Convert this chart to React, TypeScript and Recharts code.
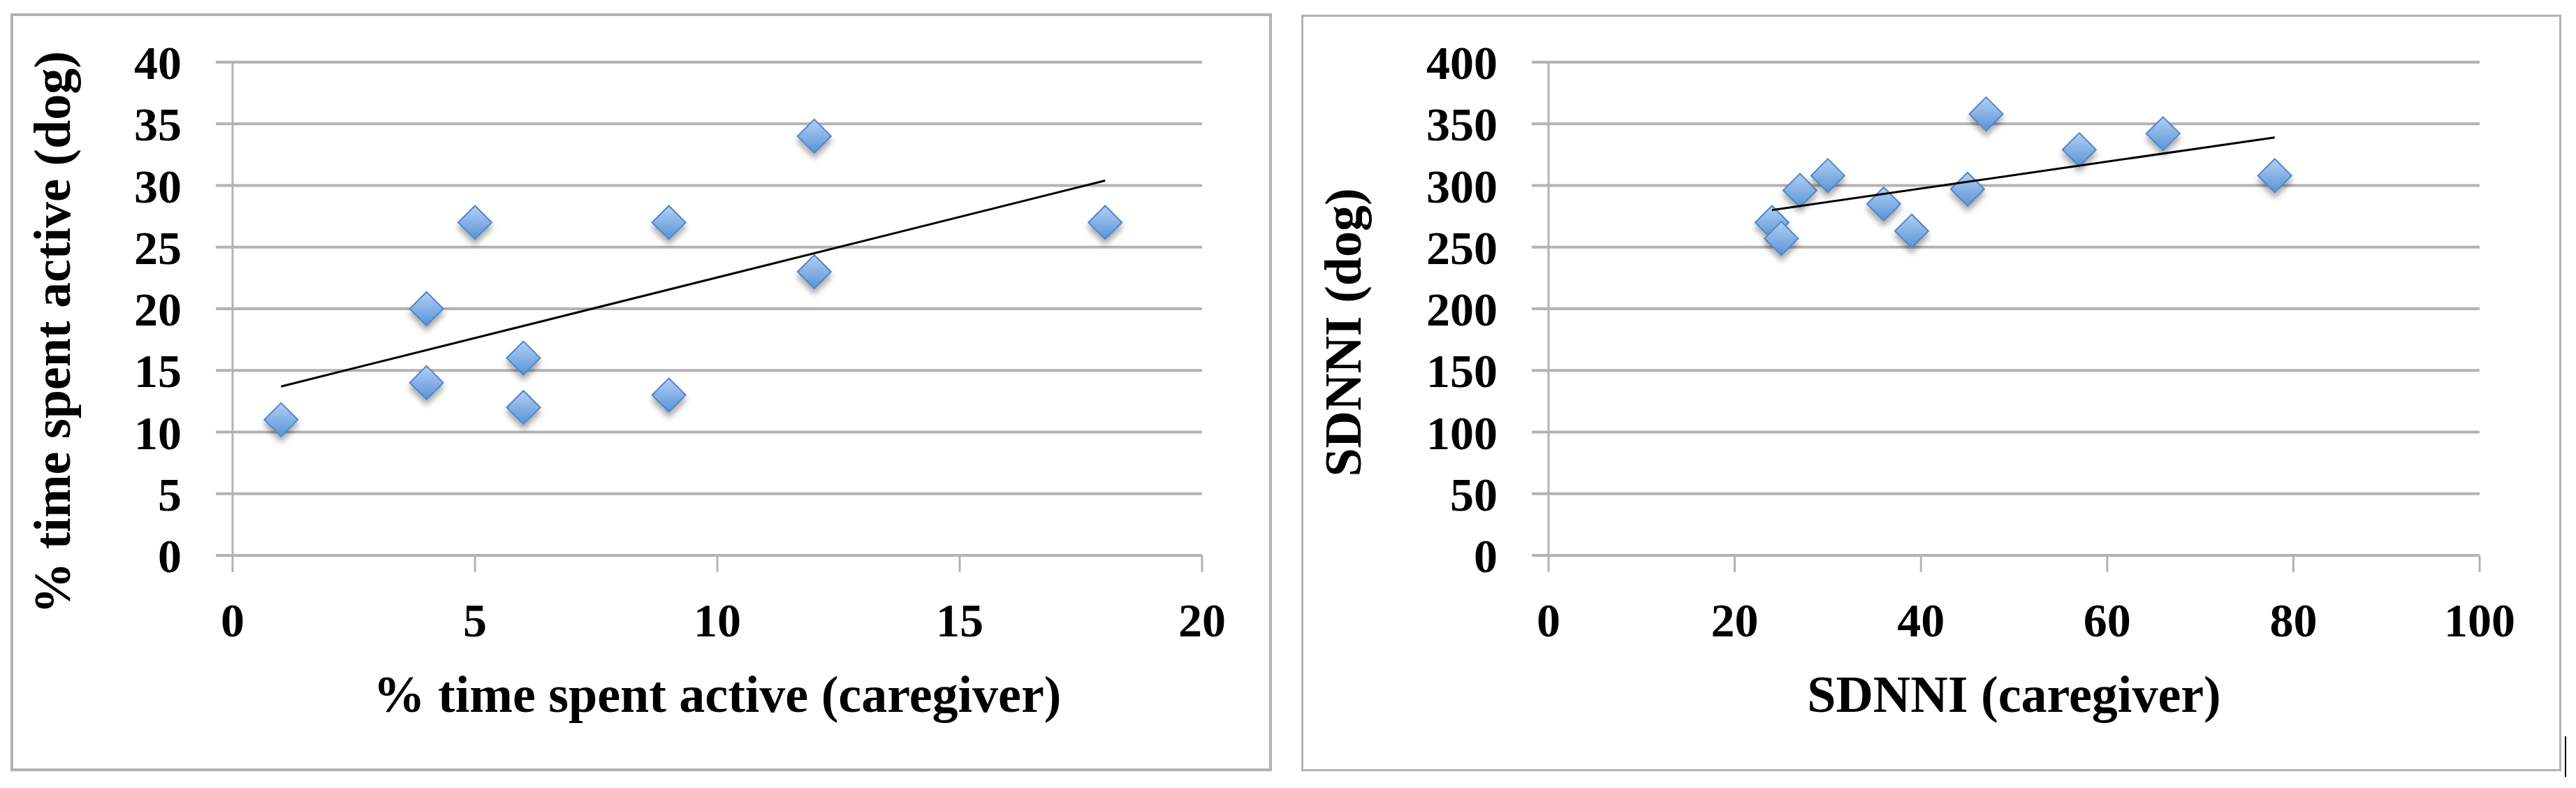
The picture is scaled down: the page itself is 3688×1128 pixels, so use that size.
import React from 'react';
import { ScatterChart, Scatter, XAxis, YAxis, CartesianGrid, Label } from 'recharts';

// ---- Data: left panel (% time spent active) ----
const activeCaregiver = [1, 4, 4, 5, 6, 6, 9, 9, 12, 12, 18];
const activeDog = [11, 20, 14, 27, 16, 12, 27, 13, 34, 23, 27];
const activeTrendX = [1, 18];
const activeTrendY = [13.7, 30.4];
const activeXTicks = [0, 5, 10, 15, 20];
const activeYTicks = [0, 5, 10, 15, 20, 25, 30, 35, 40];

// ---- Data: right panel (SDNNI) ----
const sdnniCaregiver = [24, 25, 27, 30, 36, 39, 45, 47, 57, 66, 78];
const sdnniDog = [270, 257, 296, 308, 285, 263, 297, 358, 329, 342, 308];
const sdnniTrendX = [24, 78];
const sdnniTrendY = [280, 339];
const sdnniXTicks = [0, 20, 40, 60, 80, 100];
const sdnniYTicks = [0, 50, 100, 150, 200, 250, 300, 350, 400];

const zip = (xs: number[], ys: number[]) => xs.map((x, i) => ({ x, y: ys[i] }));

const FONT = '"Liberation Serif", "Times New Roman", serif';
const tickStyle = { fontFamily: FONT, fontWeight: 700, fontSize: 68, fill: '#000' };
const GRID = '#b3b3b3';

const makeDiamond = (id: string) => (props: any) => {
  const { cx, cy } = props;
  if (cx == null || cy == null) return <g />;
  const h = 24;
  const pts = `${cx},${cy - h} ${cx + h},${cy} ${cx},${cy + h} ${cx - h},${cy}`;
  return (
    <g filter={`url(#shadow${id})`}>
      <polygon points={pts} fill={`url(#grad${id})`} stroke="#4f86c8" strokeWidth={2} />
    </g>
  );
};

const NoShape = () => <g />;

interface PanelProps {
  id: string;
  left: number;
  width: number;
  yAxisWidth: number;
  rightMargin: number;
  data: { x: number; y: number }[];
  trend: { x: number; y: number }[];
  xTicks: number[];
  yTicks: number[];
  xTitle: string;
  yTitle: string;
  yTitleX: number;
}

const HEIGHT = 1128;
const PLOT_TOP = 89;
const PLOT_BOTTOM = 795;
const XAXIS_H = 100;

function Panel(p: PanelProps) {
  const xDomain = [p.xTicks[0], p.xTicks[p.xTicks.length - 1]];
  const yDomain = [p.yTicks[0], p.yTicks[p.yTicks.length - 1]];
  return (
    <div style={{ position: 'absolute', left: p.left, top: 0, width: p.width, height: HEIGHT }}>
      <ScatterChart
        width={p.width}
        height={HEIGHT}
        margin={{ top: PLOT_TOP, right: p.rightMargin, left: 0, bottom: HEIGHT - PLOT_BOTTOM - XAXIS_H }}
      >
        <defs>
          <linearGradient id={`grad${p.id}`} x1="0" y1="0" x2="0" y2="1">
            <stop offset="0%" stopColor="#b3d0f3" />
            <stop offset="100%" stopColor="#5893d8" />
          </linearGradient>
          <filter id={`shadow${p.id}`} x="-60%" y="-60%" width="220%" height="240%">
            <feDropShadow dx="0" dy="7" stdDeviation="4" floodColor="#000" floodOpacity="0.35" />
          </filter>
        </defs>
        <CartesianGrid vertical={false} stroke={GRID} strokeWidth={4} />
        <XAxis
          type="number"
          dataKey="x"
          domain={xDomain}
          ticks={p.xTicks}
          interval={0}
          height={XAXIS_H}
          tickSize={24}
          tickMargin={44}
          tick={tickStyle}
          axisLine={{ stroke: GRID, strokeWidth: 4 }}
          tickLine={{ stroke: GRID, strokeWidth: 3 }}
          allowDataOverflow
        >
          <Label
            content={(lp: any) => {
              const vb = lp.viewBox || {};
              return (
                <text
                  x={vb.x + vb.width / 2}
                  y={PLOT_BOTTOM + 224}
                  textAnchor="middle"
                  style={{ fontFamily: FONT, fontWeight: 700, fontSize: 74, fill: '#000' }}
                >
                  {p.xTitle}
                </text>
              );
            }}
          />
        </XAxis>
        <YAxis
          type="number"
          dataKey="y"
          domain={yDomain}
          ticks={p.yTicks}
          interval={0}
          width={p.yAxisWidth}
          tickSize={24}
          tickMargin={49}
          tick={tickStyle}
          axisLine={{ stroke: GRID, strokeWidth: 3 }}
          tickLine={{ stroke: GRID, strokeWidth: 4 }}
          allowDataOverflow
        >
          <Label
            content={() => {
              const bx = p.yTitleX;
              const cy = 476;
              return (
                <text
                  x={bx}
                  y={cy}
                  transform={`rotate(-90, ${bx}, ${cy})`}
                  textAnchor="middle"
                  style={{ fontFamily: FONT, fontWeight: 700, fontSize: 74, fill: '#000' }}
                >
                  {p.yTitle}
                </text>
              );
            }}
          />
        </YAxis>
        <Scatter data={p.data} shape={makeDiamond(p.id)} isAnimationActive={false} />
        <Scatter
          data={p.trend}
          shape={NoShape}
          line={{ stroke: '#000', strokeWidth: 3 }}
          isAnimationActive={false}
        />
      </ScatterChart>
    </div>
  );
}

export default function App() {
  return (
    <div style={{ position: 'absolute', left: 0, top: 0, width: 3688, height: 1128, background: '#fff' }}>
      <div
        style={{
          position: 'absolute', left: 15, top: 19, width: 1806, height: 1085,
          border: `4px solid ${GRID}`, boxSizing: 'border-box',
        }}
      />
      <div
        style={{
          position: 'absolute', left: 1863, top: 21, width: 1804, height: 1083,
          border: `3px solid ${GRID}`, boxSizing: 'border-box',
        }}
      />
      <div style={{ position: 'absolute', left: 3672, top: 1054, width: 2, height: 58, background: '#000' }} />
      <Panel
        id="L"
        left={0}
        width={1850}
        yAxisWidth={333}
        rightMargin={1850 - 1721}
        data={zip(activeCaregiver, activeDog)}
        trend={zip(activeTrendX, activeTrendY)}
        xTicks={activeXTicks}
        yTicks={activeYTicks}
        xTitle="% time spent active (caregiver)"
        yTitle="% time spent active (dog)"
        yTitleX={100}
      />
      <Panel
        id="R"
        left={1850}
        width={1838}
        yAxisWidth={2217 - 1850}
        rightMargin={3688 - 3550}
        data={zip(sdnniCaregiver, sdnniDog)}
        trend={zip(sdnniTrendX, sdnniTrendY)}
        xTicks={sdnniXTicks}
        yTicks={sdnniYTicks}
        xTitle="SDNNI (caregiver)"
        yTitle="SDNNI (dog)"
        yTitleX={98}
      />
    </div>
  );
}
